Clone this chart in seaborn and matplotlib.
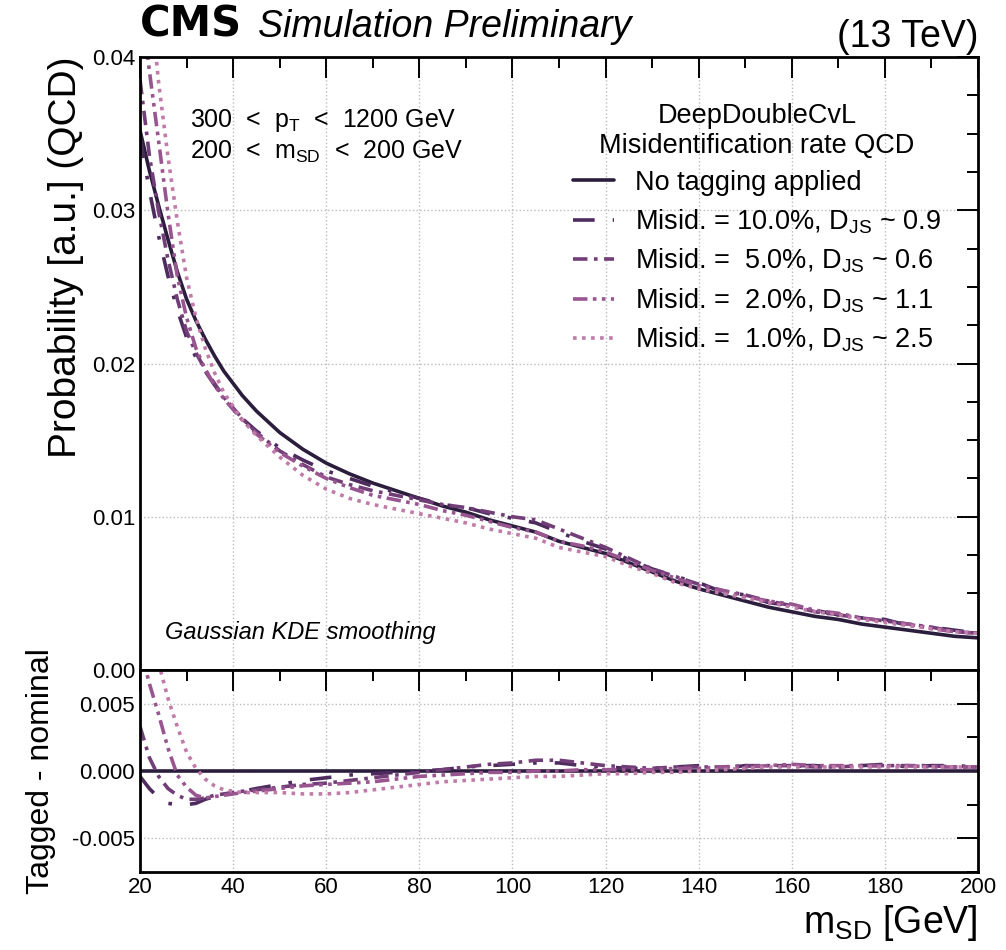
import pandas as pd
import matplotlib
matplotlib.use("Agg")
import matplotlib.pyplot as plt
from matplotlib.lines import Line2D
from matplotlib.ticker import MultipleLocator
import seaborn as sns

# soft-drop mass grid [GeV]
msd = [20, 22, 24, 26, 28, 30, 32, 34, 36, 38, 40, 42, 45, 50, 55, 60, 65, 70, 75, 80,
       85, 90, 95, 100, 105, 110, 115, 120, 125, 130, 135, 140, 145, 150, 155, 160,
       165, 170, 175, 180, 185, 190, 195, 200]

# no tagging applied
nominal = [0.0352, 0.0326, 0.0303, 0.0281, 0.0260, 0.0242, 0.0228, 0.0216, 0.0205, 0.0195,
           0.0187, 0.0179, 0.0169, 0.0155, 0.0144, 0.0135, 0.0128, 0.0122, 0.0117, 0.0112,
           0.0107, 0.0103, 0.0098, 0.0094, 0.0090, 0.0084, 0.0080, 0.0076, 0.0070, 0.0064,
           0.0058, 0.0053, 0.0049, 0.0045, 0.0041, 0.0038, 0.0035, 0.0033, 0.0030, 0.0028,
           0.0026, 0.0024, 0.0022, 0.0021]

# tagged - nominal for each working point
diff_10 = [-0.0004, -0.0013, -0.0020, -0.0024, -0.0025, -0.0025, -0.0024, -0.0021, -0.0019, -0.0017,
           -0.0016, -0.0015, -0.0013, -0.0010, -0.0007, -0.0005, -0.0003, -0.0002, -0.0001, 0.0000,
           0.0001, 0.0003, 0.0004, 0.0005, 0.0006, 0.0006, 0.0004, 0.0003, 0.0002, 0.0002,
           0.0003, 0.0004, 0.0002, 0.0004, 0.0003, 0.0004, 0.0004, 0.0003, 0.0004, 0.0005,
           0.0003, 0.0004, 0.0004, 0.0003]
diff_5 = [0.0033, 0.0010, -0.0004, -0.0013, -0.0018, -0.0021, -0.0021, -0.0020, -0.0018, -0.0017,
          -0.0016, -0.0015, -0.0014, -0.0012, -0.0010, -0.0009, -0.0007, -0.0005, -0.0003, -0.0001,
          0.0001, 0.0003, 0.0005, 0.0006, 0.0008, 0.0008, 0.0006, 0.0004, 0.0003, 0.0002,
          0.0003, 0.0003, 0.0003, 0.0004, 0.0004, 0.0004, 0.0003, 0.0003, 0.0004, 0.0004,
          0.0004, 0.0004, 0.0003, 0.0003]
diff_2 = [0.0092, 0.0065, 0.0042, 0.0017, -0.0003, -0.0012, -0.0018, -0.0020, -0.0019, -0.0018,
          -0.0017, -0.0016, -0.0015, -0.0013, -0.0011, -0.0010, -0.0009, -0.0008, -0.0006, -0.0004,
          -0.0003, -0.0002, -0.0001, -0.0001, 0.0000, 0.0000, 0.0001, 0.0001, 0.0001, 0.0001,
          0.0002, 0.0002, 0.0003, 0.0003, 0.0004, 0.0005, 0.0004, 0.0004, 0.0004, 0.0004,
          0.0004, 0.0003, 0.0003, 0.0003]
diff_1 = [0.0160, 0.0120, 0.0080, 0.0054, 0.0033, 0.0014, 0.0002, -0.0006, -0.0011, -0.0014,
          -0.0015, -0.0016, -0.0016, -0.0016, -0.0017, -0.0017, -0.0016, -0.0014, -0.0012, -0.0010,
          -0.0008, -0.0007, -0.0006, -0.0005, -0.0004, -0.0004, -0.0003, -0.0002, -0.0002, -0.0001,
          -0.0001, 0.0000, 0.0001, 0.0002, 0.0003, 0.0003, 0.0003, 0.0003, 0.0003, 0.0003,
          0.0003, 0.0003, 0.0003, 0.0003]

labels = ["No tagging applied",
          "Misid. = 10.0%, D$_{\\mathrm{JS}}$ ~ 0.9",
          "Misid. =  5.0%, D$_{\\mathrm{JS}}$ ~ 0.6",
          "Misid. =  2.0%, D$_{\\mathrm{JS}}$ ~ 1.1",
          "Misid. =  1.0%, D$_{\\mathrm{JS}}$ ~ 2.5"]
colors = ["#2b1d3c", "#4e2b5f", "#713e78", "#985590", "#c07ba9"]
dash_styles = ["", (6, 5, 1, 5), (4, 1.8, 1, 1.8), (4, 1.5, 1, 1.5, 1, 1.5), (1, 1.5)]
diffs = [[0.0] * len(msd), diff_10, diff_5, diff_2, diff_1]

rows = []
for lab, d in zip(labels, diffs):
    for x, n, dd in zip(msd, nominal, d):
        rows.append({"msd": x, "prob": n + dd, "diff": dd, "series": lab})
df = pd.DataFrame(rows)

sns.set_style("white")
plt.rcParams["font.family"] = ["Liberation Sans", "DejaVu Sans"]
plt.rcParams["mathtext.fontset"] = "custom"
plt.rcParams["mathtext.rm"] = "Liberation Sans"
plt.rcParams["mathtext.it"] = "Liberation Sans:italic"
plt.rcParams["axes.linewidth"] = 2.0
for k in ["text.color", "axes.labelcolor", "xtick.color", "ytick.color", "axes.edgecolor"]:
    plt.rcParams[k] = "black"

fig = plt.figure(figsize=(10.06, 9.5), dpi=100)
ax = fig.add_axes([0.1392, 0.2947, 0.8330, 0.6453])
rax = fig.add_axes([0.1392, 0.0821, 0.8330, 0.2126], sharex=ax)

pal = dict(zip(labels, colors))
dsh = dict(zip(labels, dash_styles))

sns.lineplot(data=df, x="msd", y="prob", hue="series", style="series", palette=pal,
             dashes=dsh, linewidth=2.6, legend=False, ax=ax)
sns.lineplot(data=df, x="msd", y="diff", hue="series", style="series", palette=pal,
             dashes=dsh, linewidth=2.6, legend=False, ax=rax)

ax.set_xlim(20, 200)
ax.set_ylim(0, 0.04)
rax.set_ylim(-0.0075, 0.0075)

for a in (ax, rax):
    a.xaxis.set_major_locator(MultipleLocator(20))
    a.xaxis.set_minor_locator(MultipleLocator(10))
    a.grid(True, which="major", linestyle=":", color="#bbbbbb", linewidth=1.0)
    a.tick_params(which="both", direction="in", top=True, right=True, labelsize=16, width=1.4)
    a.tick_params(which="major", length=15)
    a.tick_params(which="minor", length=8)
    a.set_xlabel("")
    a.set_ylabel("")

ax.yaxis.set_major_locator(MultipleLocator(0.01))
ax.yaxis.set_minor_locator(MultipleLocator(0.0025))
ax.yaxis.set_major_formatter(plt.FormatStrFormatter("%.2f"))
ax.tick_params(labelbottom=False)
rax.yaxis.set_major_locator(MultipleLocator(0.005))
rax.yaxis.set_minor_locator(MultipleLocator(0.0025))
rax.yaxis.set_major_formatter(plt.FormatStrFormatter("%.3f"))

ax.set_ylabel("Probability [a.u.] (QCD)", fontsize=28, loc="top")
rax.set_ylabel("Tagged - nominal", fontsize=23)
ax.yaxis.set_label_coords(-0.067, 1.0)
rax.yaxis.set_label_coords(-0.100, 0.5)
rax.set_xlabel("m$_{\\mathrm{SD}}$ [GeV]", fontsize=27, loc="right")

ax.text(0.0, 1.033, "CMS", transform=ax.transAxes, fontsize=30, fontweight="bold",
        family="DejaVu Sans", ha="left", va="baseline")
ax.text(0.141, 1.033, "Simulation Preliminary", transform=ax.transAxes, fontsize=27,
        fontstyle="italic", ha="left", va="baseline")
ax.text(1.0, 1.017, "(13 TeV)", transform=ax.transAxes, fontsize=27, ha="right", va="baseline")

ax.text(0.06, 0.897, "300  <  p$_{\\mathrm{T}}$  <  1200 GeV", transform=ax.transAxes,
        fontsize=18, ha="left", va="center")
ax.text(0.06, 0.845, "200  <  m$_{\\mathrm{SD}}$  <  200 GeV", transform=ax.transAxes,
        fontsize=18, ha="left", va="center")
ax.text(0.03, 0.062, "Gaussian KDE smoothing", transform=ax.transAxes, fontsize=17,
        fontstyle="italic", ha="left", va="center")

handles = []
for lab, c, d in zip(labels, colors, dash_styles):
    h = Line2D([0], [0], color=c, linewidth=2.6, label=lab)
    if d:
        h.set_dashes(d)
    handles.append(h)
leg = ax.legend(handles=handles, title="DeepDoubleCvL\nMisidentification rate QCD",
                loc="upper right", bbox_to_anchor=(0.985, 0.965), frameon=False,
                fontsize=19.5, title_fontsize=19.5, handlelength=1.5, handletextpad=0.8,
                labelspacing=0.41)
leg._legend_box.align = "center"
leg.get_title().set_multialignment("center")

fig.savefig("out.png", dpi=100)
